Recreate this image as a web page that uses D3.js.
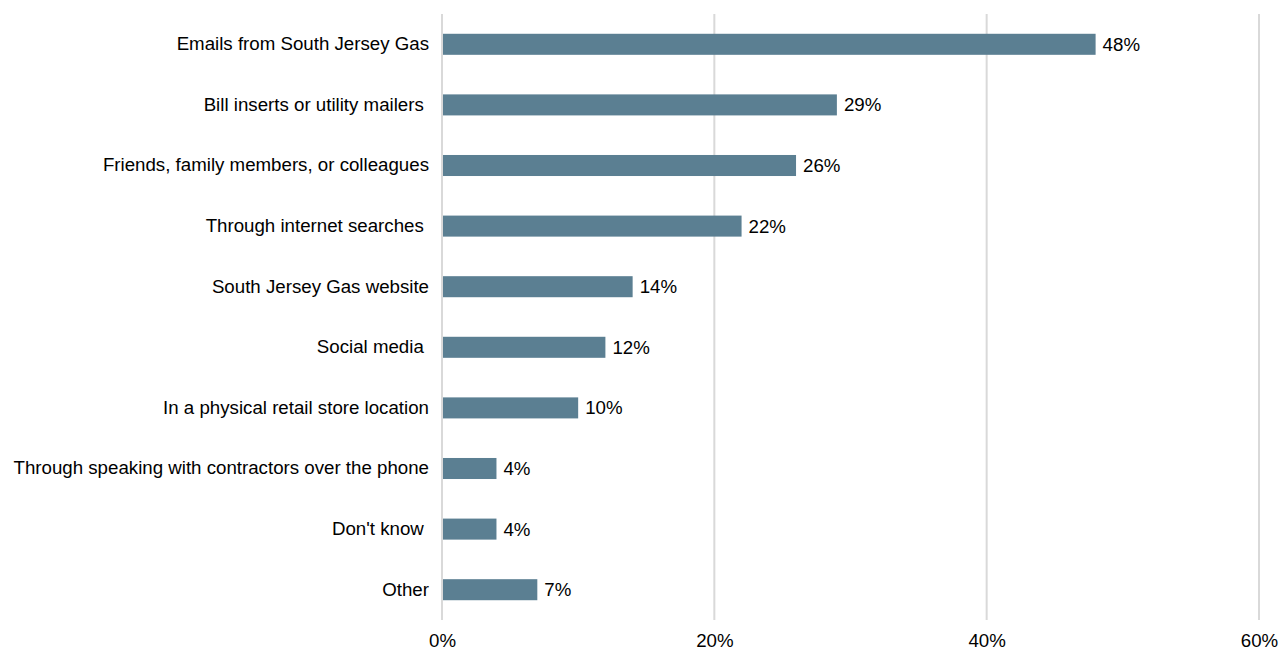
<!DOCTYPE html>
<html>
<head>
<meta charset="utf-8">
<script src="https://cdn.jsdelivr.net/npm/d3@7"></script>
<style>
  html, body { margin: 0; padding: 0; background: #fff; }
  svg text { font-family: "Liberation Sans", Arial, sans-serif; fill: #000; white-space: pre; }
</style>
</head>
<body>
<svg id="chart" width="1281" height="651"></svg>
<script>
// Sources of information, share of respondents (%)
const categories = [
  "Emails from South Jersey Gas",
  "Bill inserts or utility mailers ",
  "Friends, family members, or colleagues",
  "Through internet searches ",
  "South Jersey Gas website",
  "Social media ",
  "In a physical retail store location",
  "Through speaking with contractors over the phone",
  "Don't know ",
  "Other"
];
const values = [48, 29, 26, 22, 14, 12, 10, 4, 4, 7];
const tickValues = [0, 20, 40, 60];

const fontSize = 18.7;
const svg = d3.select("#chart");
const plotLeft = 442, plotRight = 1259, plotTop = 14, plotBottom = 620;

const x = d3.scaleLinear().domain([0, 60]).range([plotLeft, plotRight]);
const y = d3.scaleBand()
  .domain(categories)
  .range([plotTop, plotBottom])
  .paddingInner(0.653)
  .paddingOuter(0.3265);

// vertical gridlines
svg.append("g")
  .selectAll("line")
  .data(tickValues)
  .join("line")
  .attr("x1", d => x(d)).attr("x2", d => x(d))
  .attr("y1", plotTop).attr("y2", plotBottom)
  .attr("stroke", "#d9d9d9")
  .attr("stroke-width", 2);

// x axis tick labels
const xAxis = d3.axisBottom(x).tickValues(tickValues).tickFormat(d => d + "%").tickSize(0).tickPadding(0);
const gx = svg.append("g").attr("transform", `translate(0, ${plotBottom + 14})`).call(xAxis);
gx.select(".domain").remove();
gx.selectAll("text").attr("font-size", fontSize).attr("fill", "#000")
  .style("font-family", "'Liberation Sans', Arial, sans-serif");

// bars
svg.append("g")
  .selectAll("rect")
  .data(values)
  .join("rect")
  .attr("x", x(0) + 1)
  .attr("y", (d, i) => y(categories[i]))
  .attr("width", d => x(d) - x(0) - 1)
  .attr("height", y.bandwidth())
  .attr("fill", "#5b7f92");

// value labels
svg.append("g")
  .selectAll("text")
  .data(values)
  .join("text")
  .attr("x", d => x(d) + 7)
  .attr("y", (d, i) => y(categories[i]) + y.bandwidth() / 2)
  .attr("dy", "0.35em")
  .attr("font-size", fontSize)
  .text(d => d + "%");

// category labels
const yAxis = d3.axisLeft(y).tickSize(0).tickPadding(0);
const gy = svg.append("g").attr("transform", `translate(${plotLeft - 13}, 0)`).call(yAxis);
gy.select(".domain").remove();
gy.selectAll("text").attr("font-size", fontSize).attr("fill", "#000")
  .style("font-family", "'Liberation Sans', Arial, sans-serif")
  .style("white-space", "pre");
</script>
</body>
</html>
